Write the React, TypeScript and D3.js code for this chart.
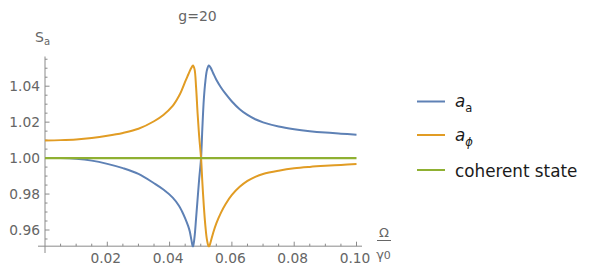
import React from "react";
import * as d3 from "d3";

const xs = [0, 0.005, 0.01, 0.015, 0.02, 0.025, 0.03, 0.035, 0.038, 0.041, 0.043, 0.044, 0.045, 0.046, 0.0465, 0.047, 0.0475, 0.048, 0.0485, 0.049, 0.0495, 0.0501, 0.0505, 0.051, 0.0515, 0.052, 0.0526, 0.0532, 0.054, 0.055, 0.0565, 0.058, 0.06, 0.0625, 0.065, 0.0675, 0.07, 0.075, 0.08, 0.085, 0.09, 0.095, 0.1];
const aA = [1.0, 1.0, 0.9996, 0.9986, 0.9968, 0.9944, 0.9912, 0.986, 0.9825, 0.978, 0.9735, 0.9703, 0.9665, 0.962, 0.959, 0.9545, 0.9505, 0.956, 0.9665, 0.9775, 0.9885, 1.0, 1.016, 1.033, 1.043, 1.049, 1.0515, 1.0502, 1.0472, 1.0436, 1.0393, 1.0357, 1.0315, 1.0272, 1.024, 1.0216, 1.0199, 1.0176, 1.0161, 1.015, 1.0142, 1.0136, 1.013];
const aPhi = [1.0098, 1.01, 1.0104, 1.0112, 1.0124, 1.014, 1.0163, 1.0205, 1.024, 1.029, 1.0345, 1.0382, 1.0425, 1.0465, 1.0485, 1.0502, 1.0515, 1.0495, 1.0395, 1.0245, 1.012, 1.0, 0.987, 0.973, 0.962, 0.9545, 0.9505, 0.9535, 0.9585, 0.9637, 0.9697, 0.9745, 0.9795, 0.984, 0.9873, 0.9896, 0.9912, 0.993, 0.9943, 0.9951, 0.9957, 0.9962, 0.9967];
const coherentX = [0, 0.1];
const coherentY = [1, 1];

const xTicks = [0.02, 0.04, 0.06, 0.08, 0.1];
const xTickLabels = ["0.02", "0.04", "0.06", "0.08", "0.10"];
const yTicks = [0.96, 0.98, 1.0, 1.02, 1.04];
const yTickLabels = ["0.96", "0.98", "1.00", "1.02", "1.04"];

const COLORS = { a: "#5E81B5", phi: "#E19C24", coh: "#8FB032" };
const FONT = "'DejaVu Sans', sans-serif";
const AXIS = "#8a8a8a";
const LABEL = "#666";

export default function App() {
  const x = d3.scaleLinear().domain([0, 0.1]).range([45, 356.5]);
  const y = d3.scaleLinear().domain([0.96, 1.04]).range([230, 86.2]);
  const line = d3
    .line<[number, number]>()
    .x((d) => x(d[0]))
    .y((d) => y(d[1]))
    .curve(d3.curveCatmullRom.alpha(0.5));

  const blueData = xs.map((v, i) => [v, aA[i]] as [number, number]);
  const orangeData = xs.map((v, i) => [v, aPhi[i]] as [number, number]);
  const greenData = coherentX.map((v, i) => [v, coherentY[i]] as [number, number]);

  const axisY = y(0.951);
  const x0 = x(0);
  const xMinor = d3.range(1, 21).map((k) => k * 0.005);
  const yMinor = d3.range(0, 21).map((k) => 0.955 + k * 0.005);

  return (
    <svg
      width={598}
      height={268}
      style={{ position: "absolute", left: 0, top: 0, background: "#fff" }}
      fontFamily={FONT}
    >
      <defs>
        <clipPath id="plotclip">
          <rect x={x0} y={50} width={x(0.1) - x0 + 2} height={axisY - 50 + 1} />
        </clipPath>
      </defs>
      {/* title */}
      <text x={197.5} y={21} textAnchor="middle" fontSize={14} fill={LABEL}>
        g=20
      </text>
      {/* y label */}
      <text x={35} y={42} fontSize={14} fill={LABEL}>
        S
        <tspan fontSize={10} dy={3}>a</tspan>
      </text>
      {/* axes */}
      <line x1={38} x2={362} y1={axisY} y2={axisY} stroke={AXIS} strokeWidth={1} />
      <line x1={x0} x2={x0} y1={56.5} y2={253} stroke={AXIS} strokeWidth={1} />
      {xMinor.map((v, i) => {
        const major = xTicks.some((t) => Math.abs(t - v) < 1e-9);
        return (
          <line
            key={"xm" + i}
            x1={x(v)}
            x2={x(v)}
            y1={axisY}
            y2={axisY - (major ? 4.5 : 2.5)}
            stroke={AXIS}
            strokeWidth={1}
          />
        );
      })}
      {yMinor.map((v, i) => {
        const major = yTicks.some((t) => Math.abs(t - v) < 1e-9);
        return (
          <line
            key={"ym" + i}
            x1={x0}
            x2={x0 + (major ? 4.5 : 2.5)}
            y1={y(v)}
            y2={y(v)}
            stroke={AXIS}
            strokeWidth={1}
          />
        );
      })}
      {xTicks.map((v, i) => (
        <text key={"xl" + i} x={x(v) - 1.5} y={263} textAnchor="middle" fontSize={13.8} fill={LABEL}>
          {xTickLabels[i]}
        </text>
      ))}
      {yTicks.map((v, i) => (
        <text key={"yl" + i} x={40} y={y(v) + 5} textAnchor="end" fontSize={13.8} fill={LABEL}>
          {yTickLabels[i]}
        </text>
      ))}
      {/* x label fraction */}
      <text x={384} y={237} textAnchor="middle" fontSize={13} fill={LABEL}>
        Ω
      </text>
      <line x1={377} x2={391} y1={240.5} y2={240.5} stroke={LABEL} strokeWidth={1} />
      <text x={383.5} y={259} textAnchor="middle" fontSize={13} fill={LABEL}>
        γ<tspan fontSize={11}>0</tspan>
      </text>
      {/* curves */}
      <g clipPath="url(#plotclip)" fill="none" strokeWidth={2} strokeLinejoin="round">
        <path d={line(blueData) || ""} stroke={COLORS.a} />
        <path d={line(orangeData) || ""} stroke={COLORS.phi} />
        <path d={line(greenData) || ""} stroke={COLORS.coh} strokeWidth={2.2} />
      </g>
      {/* legend */}
      <g>
        <line x1={417} x2={445} y1={101.5} y2={101.5} stroke={COLORS.a} strokeWidth={2} />
        <text x={455} y={107} fontSize={16.8} fill="#1a1a1a">
          <tspan fontStyle="italic">a</tspan>
          <tspan fontSize={11.5} dy={5}>a</tspan>
        </text>
        <line x1={417} x2={445} y1={135} y2={135} stroke={COLORS.phi} strokeWidth={2} />
        <text x={455} y={140.5} fontSize={16.8} fill="#1a1a1a">
          <tspan fontStyle="italic">a</tspan>
          <tspan fontSize={11.5} dy={5} fontStyle="italic">ϕ</tspan>
        </text>
        <line x1={417} x2={445} y1={170} y2={170} stroke={COLORS.coh} strokeWidth={2} />
        <text x={455} y={176.5} fontSize={16.8} fill="#1a1a1a">
          coherent state
        </text>
      </g>
    </svg>
  );
}
